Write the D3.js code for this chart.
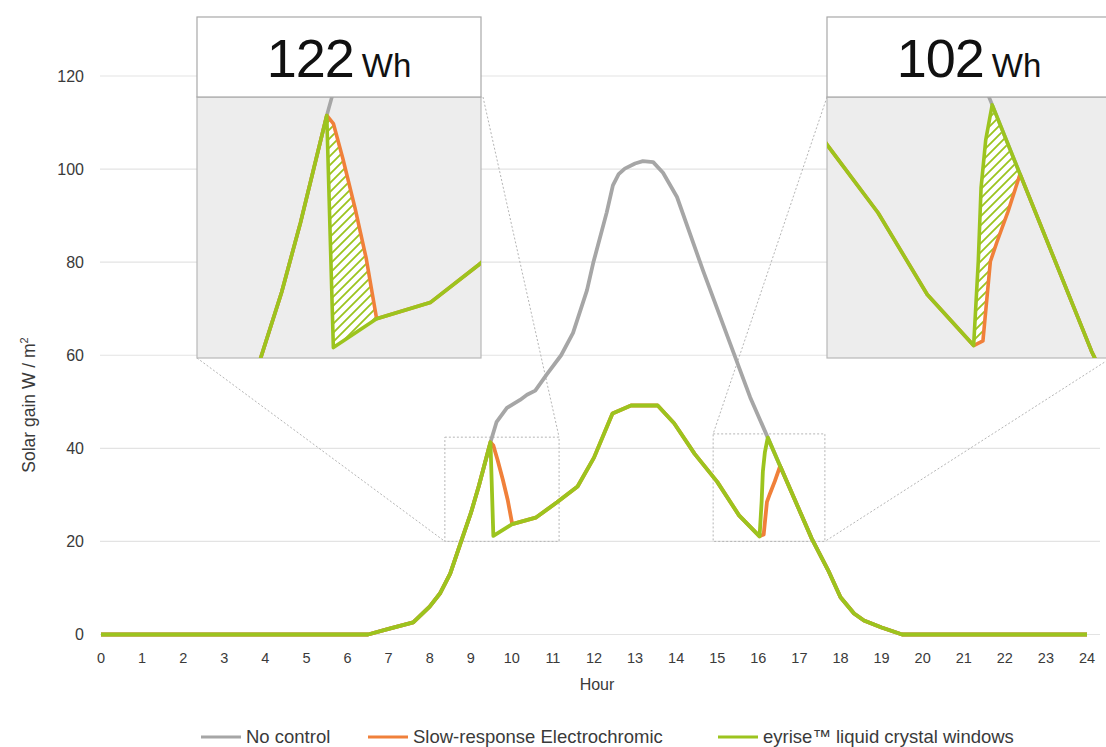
<!DOCTYPE html>
<html><head><meta charset="utf-8">
<script src="https://cdn.jsdelivr.net/npm/d3@7/dist/d3.min.js"></script>
<style>
body{margin:0;background:#fff}
svg{display:block}
text{font-family:"Liberation Sans",Arial,sans-serif;fill:#3a3a3a}
</style>
</head><body>
<svg id="chart" width="1106" height="747"></svg>
<script>
// ---------- data ----------
const hourTicks = d3.range(0, 25);
const gainTicks = [0, 20, 40, 60, 80, 100, 120];
const seriesNames = ["No control", "Slow-response Electrochromic", "eyrise\u2122 liquid crystal windows"];
const seriesColors = ["#a6a6a6", "#f0803a", "#9cc41e"];

const greyHours = [0, 6.5, 7.0, 7.6, 8.0, 8.25, 8.5, 8.75, 9.0, 9.2, 9.48, 9.63, 9.88, 10.2, 10.37, 10.57, 10.86, 11.2, 11.49, 11.83, 11.98, 12.31, 12.46, 12.6, 12.75, 13.0, 13.19, 13.44, 13.68, 14.02, 14.65, 15.31, 15.8, 16.23, 16.53, 17.3, 17.7, 18.0, 18.33, 18.57, 19.0, 19.5, 24];
const greyGain  = [0, 0, 1.2, 2.6, 6.0, 8.8, 13.1, 19.6, 26, 32, 41.3, 45.7, 48.7, 50.4, 51.5, 52.4, 56.0, 60.0, 64.8, 74, 79.8, 90.7, 96.5, 98.9, 100.1, 101.2, 101.7, 101.5, 99.2, 94, 78.3, 62.6, 51, 42.3, 36.2, 20.6, 13.8, 8.0, 4.5, 3.0, 1.5, 0, 0];

const orangeHours = [0, 6.5, 7.0, 7.6, 8.0, 8.25, 8.5, 8.75, 9.0, 9.2, 9.48, 9.55, 9.65, 9.78, 9.9, 10.01, 10.58, 11.1, 11.6, 12.0, 12.45, 12.9, 13.55, 13.95, 14.45, 15.0, 15.53, 16.03, 16.13, 16.21, 16.28, 16.4, 16.53, 17.3, 17.7, 18.0, 18.33, 18.57, 19.0, 19.5, 24];
const orangeGain  = [0, 0, 1.2, 2.6, 6.0, 8.8, 13.1, 19.6, 26, 32, 41.3, 40.6, 37.6, 33.3, 28.9, 23.7, 25.1, 28.4, 31.8, 38, 47.5, 49.2, 49.2, 45.4, 38.8, 32.8, 25.6, 21.1, 21.5, 28.5, 30.2, 32.9, 36.2, 20.6, 13.8, 8.0, 4.5, 3.0, 1.5, 0, 0];

const greenHours = [0, 6.5, 7.0, 7.6, 8.0, 8.25, 8.5, 8.75, 9.0, 9.2, 9.48, 9.55, 10.01, 10.58, 11.1, 11.6, 12.0, 12.45, 12.9, 13.55, 13.95, 14.45, 15.0, 15.53, 16.03, 16.08, 16.11, 16.16, 16.23, 16.53, 17.3, 17.7, 18.0, 18.33, 18.57, 19.0, 19.5, 24];
const greenGain  = [0, 0, 1.2, 2.6, 6.0, 8.8, 13.1, 19.6, 26, 32, 41.3, 21.2, 23.7, 25.1, 28.4, 31.8, 38, 47.5, 49.2, 49.2, 45.4, 38.8, 32.8, 25.6, 21.1, 28.5, 35, 39.2, 42.3, 36.2, 20.6, 13.8, 8.0, 4.5, 3.0, 1.5, 0, 0];

// zoom insets
const insetValues = ["122", "102"];
const insetUnit = "Wh";
const insetHourDomains = [[8.10, 11.12], [14.45, 17.51]];
const insetGainDomains = [[20.3, 42.9], [20.0, 43.0]];
const boxHourRanges = [[8.37, 11.15], [14.9, 17.62]];
const boxGainRanges = [[20, 42.4], [20, 43.1]];
const hatchHourRanges = [[9.48, 10.01], [16.03, 16.53]];

// ---------- layout ----------
const svg = d3.select("#chart");
const x = d3.scaleLinear().domain([0, 24]).range([101, 1087]);
const y = d3.scaleLinear().domain([0, 120]).range([634.5, 76]);
const insetBoxes = [{x0: 197, x1: 481}, {x0: 827, x1: 1111}];
const headTop = 17, plotTop = 97, plotBottom = 358;

const series = [
  {h: greyHours, g: greyGain},
  {h: orangeHours, g: orangeGain},
  {h: greenHours, g: greenGain}
];

function interp(hs, gs, h) {
  for (let i = 0; i < hs.length - 1; i++) {
    if (h >= hs[i] && h <= hs[i + 1]) {
      const t = hs[i + 1] === hs[i] ? 0 : (h - hs[i]) / (hs[i + 1] - hs[i]);
      return gs[i] + t * (gs[i + 1] - gs[i]);
    }
  }
  return gs[gs.length - 1];
}

// defs
const defs = svg.append("defs");
const pat = defs.append("pattern").attr("id", "hatch")
  .attr("patternUnits", "userSpaceOnUse").attr("width", 9).attr("height", 9);
pat.append("rect").attr("width", 9).attr("height", 9).attr("fill", "#ffffff");
pat.append("path").attr("d", "M-1,10 L10,-1 M-3,3 L3,-3 M6,12 L12,6")
  .attr("stroke", seriesColors[2]).attr("stroke-width", 1.8);

// gridlines
svg.append("g").selectAll("line").data(gainTicks).join("line")
  .attr("x1", x(0) - 1).attr("x2", x(24) + 13)
  .attr("y1", d => y(d)).attr("y2", d => y(d))
  .attr("stroke", "#e3e3e3").attr("stroke-width", 1.2);

// y tick labels
svg.append("g").selectAll("text").data(gainTicks).join("text")
  .attr("x", 84).attr("y", d => y(d)).attr("dy", "0.35em")
  .attr("text-anchor", "end").attr("font-size", 16).text(d => d);

// x tick labels
svg.append("g").selectAll("text").data(hourTicks).join("text")
  .attr("x", d => x(d)).attr("y", 663)
  .attr("text-anchor", "middle").attr("font-size", 14.5).text(d => d);

// axis titles
svg.append("text").attr("x", 597).attr("y", 690).attr("text-anchor", "middle")
  .attr("font-size", 16).text("Hour");
const yt = svg.append("text").attr("transform", "translate(35,405) rotate(-90)")
  .attr("text-anchor", "middle").attr("font-size", 17.5);
yt.append("tspan").text("Solar gain W / m");
yt.append("tspan").attr("font-size", 11).attr("dy", -7).text("2");

// connectors
const conn = svg.append("g").attr("stroke", "#b5b5b5").attr("stroke-width", 1)
  .attr("stroke-dasharray", "2,2").attr("fill", "none");
conn.append("line").attr("x1", insetBoxes[0].x0).attr("y1", plotBottom)
  .attr("x2", x(boxHourRanges[0][0])).attr("y2", y(boxGainRanges[0][0]));
conn.append("line").attr("x1", insetBoxes[0].x1 + 2).attr("y1", plotTop)
  .attr("x2", x(boxHourRanges[0][1])).attr("y2", y(boxGainRanges[0][1]));
conn.append("line").attr("x1", insetBoxes[1].x0).attr("y1", plotTop)
  .attr("x2", x(boxHourRanges[1][0])).attr("y2", y(boxGainRanges[1][1]));
conn.append("line").attr("x1", insetBoxes[1].x1).attr("y1", plotBottom)
  .attr("x2", x(boxHourRanges[1][1])).attr("y2", y(boxGainRanges[1][0]));
boxHourRanges.forEach((hr, i) => {
  const gr = boxGainRanges[i];
  conn.append("rect").attr("x", x(hr[0])).attr("y", y(gr[1]))
    .attr("width", x(hr[1]) - x(hr[0])).attr("height", y(gr[0]) - y(gr[1]));
});

// main series
const line = d3.line().x(d => x(d[0])).y(d => y(d[1]));
series.forEach((s, i) => {
  svg.append("path").datum(s.h.map((h, k) => [h, s.g[k]]))
    .attr("d", line).attr("fill", "none").attr("stroke", seriesColors[i])
    .attr("stroke-width", 3.8).attr("stroke-linejoin", "round");
});

// insets
insetBoxes.forEach((b, i) => {
  const g = svg.append("g");
  const ix = d3.scaleLinear().domain(insetHourDomains[i]).range([b.x0, b.x1]);
  const iy = d3.scaleLinear().domain(insetGainDomains[i]).range([plotBottom, plotTop]);
  defs.append("clipPath").attr("id", "clip" + i).append("rect")
    .attr("x", b.x0).attr("y", plotTop).attr("width", b.x1 - b.x0).attr("height", plotBottom - plotTop);
  g.append("rect").attr("x", b.x0).attr("y", plotTop).attr("width", b.x1 - b.x0)
    .attr("height", plotBottom - plotTop).attr("fill", "#ededed").attr("stroke", "#b8b8b8").attr("stroke-width", 1.2);
  const cg = g.append("g").attr("clip-path", "url(#clip" + i + ")");
  // hatch between slow-response and eyrise
  const hr = hatchHourRanges[i];
  const hs = Array.from(new Set([hr[0], hr[1],
    ...orangeHours.filter(h => h > hr[0] && h < hr[1]),
    ...greenHours.filter(h => h > hr[0] && h < hr[1])])).sort((a, b) => a - b);
  const area = d3.area().x(d => ix(d)).y0(d => iy(interp(orangeHours, orangeGain, d)))
    .y1(d => iy(interp(greenHours, greenGain, d)));
  cg.append("path").datum(hs).attr("d", area).attr("fill", "url(#hatch)");
  const il = d3.line().x(d => ix(d[0])).y(d => iy(d[1]));
  series.forEach((s, k) => {
    cg.append("path").datum(s.h.map((h, m) => [h, s.g[m]]))
      .attr("d", il).attr("fill", "none").attr("stroke", seriesColors[k])
      .attr("stroke-width", 3.6).attr("stroke-linejoin", "round");
  });
  // header
  g.append("rect").attr("x", b.x0).attr("y", headTop).attr("width", b.x1 - b.x0)
    .attr("height", plotTop - headTop).attr("fill", "#ffffff").attr("stroke", "#a8a8a8").attr("stroke-width", 1.2);
  const t = g.append("text").attr("x", (b.x0 + b.x1) / 2).attr("y", 77)
    .attr("text-anchor", "middle").style("fill", "#111");
  t.append("tspan").attr("font-size", 54).attr("letter-spacing", -1).text(insetValues[i]);
  t.append("tspan").attr("font-size", 33).attr("dx", 8).text(insetUnit);
});

// legend
const legendX = [201, 368, 718];
const lg = svg.append("g");
seriesNames.forEach((n, i) => {
  lg.append("line").attr("x1", legendX[i]).attr("x2", legendX[i] + 40)
    .attr("y1", 737).attr("y2", 737).attr("stroke", seriesColors[i]).attr("stroke-width", 3);
  lg.append("text").attr("x", legendX[i] + 45).attr("y", 737).attr("dy", "0.35em")
    .attr("font-size", 18.5).text(n);
});
</script>
</body></html>
